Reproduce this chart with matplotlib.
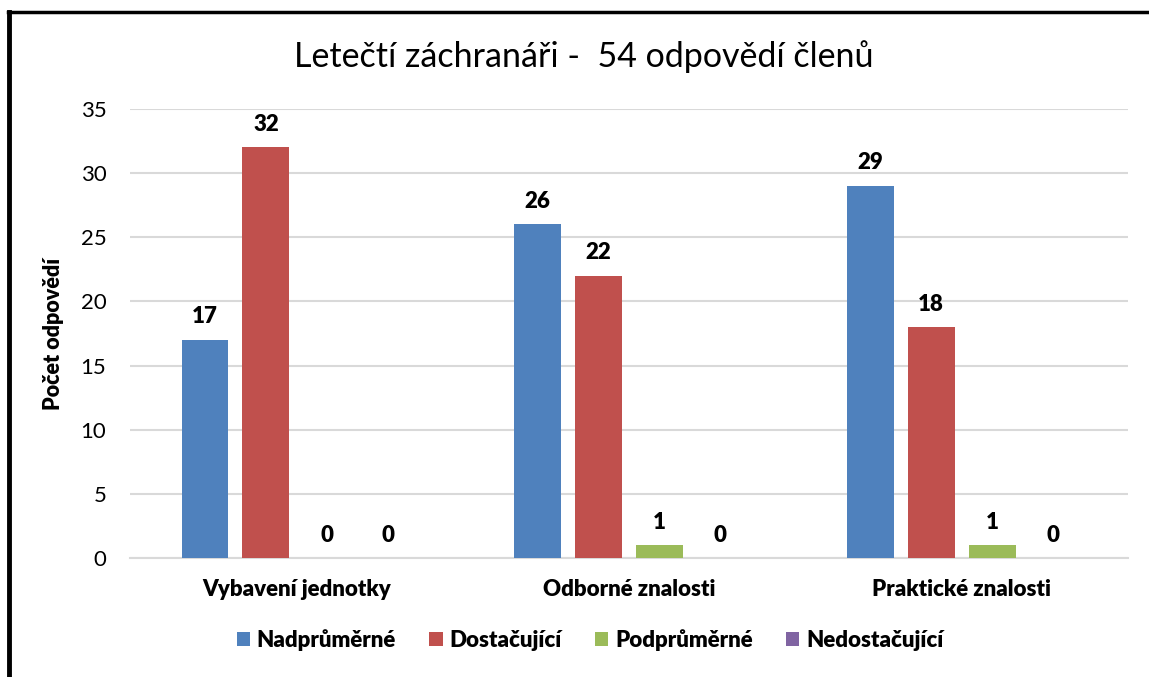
import matplotlib
matplotlib.use("Agg")
import matplotlib.pyplot as plt
from matplotlib.lines import Line2D
import numpy as np

categories = ["Vybavení jednotky", "Odborné znalosti", "Praktické znalosti"]
series_names = ["Nadprůměrné", "Dostačující", "Podprůměrné", "Nedostačující"]
nadprumerne = [17, 26, 29]
dostacujici = [32, 22, 18]
podprumerne = [0, 1, 1]
nedostacujici = [0, 0, 0]
colors = ["#4F81BD", "#C0504D", "#9BBB59", "#8064A2"]
yticks = [0, 5, 10, 15, 20, 25, 30, 35]

plt.rcParams['font.family'] = ['Lato', 'DejaVu Sans']

fig = plt.figure(figsize=(11.49, 6.77), dpi=100)
ax = fig.add_axes([130/1149, 1-558/677, (1128-130)/1149, (558-109)/677])

values = [nadprumerne, dostacujici, podprumerne, nedostacujici]
x = np.arange(len(categories))
step = 0.183
width = 0.141
for i, (name, vals, c) in enumerate(zip(series_names, values, colors)):
    pos = x + (i - 1.5) * step
    ax.bar(pos, vals, width, color=c, label=name, zorder=3)
    for p, v in zip(pos, vals):
        ax.annotate(str(v), (p, v), xytext=(0, 9), textcoords="offset points",
                    ha="center", va="bottom", fontsize=16, fontweight="heavy")

ax.set_xlim(-0.5, 2.5)
ax.set_ylim(0, 35)
ax.set_yticks(yticks)
ax.set_xticks(x)
ax.set_xticklabels(categories, fontsize=16, fontweight="heavy")
ax.tick_params(axis="x", length=0, pad=15)
ax.tick_params(axis="y", length=0, labelsize=16, pad=17)
ax.yaxis.grid(True, color="#D9D9D9", linewidth=1.5, zorder=0)
for s in ["top", "right", "left"]:
    ax.spines[s].set_visible(False)
ax.spines["bottom"].set_color("#D9D9D9")
ax.spines["bottom"].set_linewidth(1.5)
ax.set_ylabel("Počet odpovědí", fontsize=15.5, fontweight="heavy", labelpad=12)

fig.text(584/1149, 1-57/677, "Letečtí záchranáři -  54 odpovědí členů",
         ha="center", va="center", fontsize=24.5)

leg = fig.legend(loc="center", bbox_to_anchor=(590/1149, 1-640/677), ncol=4,
                 frameon=False, prop={"size": 16, "weight": "heavy"},
                 handlelength=0.6, handleheight=0.6, handletextpad=0.3,
                 columnspacing=1.5)

fig.add_artist(Line2D([9/1149, 9/1149], [0, 1-12/677], color="black", linewidth=3.5,
                      transform=fig.transFigure))
fig.add_artist(Line2D([7.5/1149, 1], [1-12/677, 1-12/677], color="black", linewidth=2.5,
                      transform=fig.transFigure))

fig.savefig("out.png", dpi=100)
